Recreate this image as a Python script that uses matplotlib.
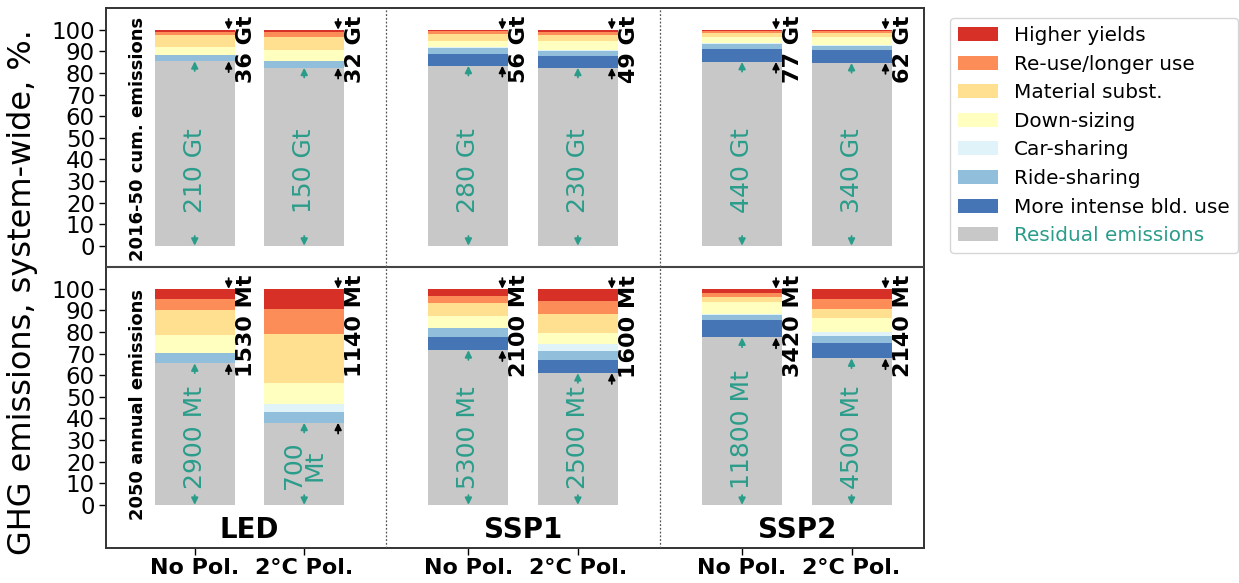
import matplotlib
matplotlib.use("Agg")
import matplotlib.pyplot as plt
from matplotlib.patches import Patch

plt.rcParams['font.family'] = ['DejaVu Sans']

# ---------------- data ----------------
scenarios = ["LED", "SSP1", "SSP2"]
policies = ["No Pol.", "2°C Pol."] * 3
categories = ["Residual emissions", "More intense bld. use", "Ride-sharing",
              "Car-sharing", "Down-sizing", "Material subst.",
              "Re-use/longer use", "Higher yields"]
colors = ["#c8c8c8", "#4575b4", "#91bfdb", "#e0f3f8", "#ffffbf",
          "#fee090", "#fc8d59", "#d73027"]

# 2016-50 cumulative emissions (% of system-wide), bars: LED NP, LED 2C, SSP1 NP, SSP1 2C, SSP2 NP, SSP2 2C
cum_residual = [85.4, 82.4, 83.3, 82.4, 85.1, 84.6]
cum_bld      = [0.0, 0.0, 5.7, 5.5, 6.2, 6.0]
cum_ride     = [2.7, 3.3, 2.6, 2.2, 2.3, 1.8]
cum_car      = [0.0, 0.0, 0.3, 0.5, 0.2, 0.4]
cum_down     = [4.1, 4.7, 3.1, 4.0, 2.8, 3.8]
cum_mat      = [5.2, 6.2, 3.1, 3.1, 1.8, 2.0]
cum_reuse    = [1.5, 2.2, 1.1, 1.4, 0.8, 0.9]
cum_yields   = [1.1, 1.2, 0.8, 0.9, 0.8, 0.5]

# 2050 annual emissions
ann_residual = [65.5, 38.0, 71.6, 61.0, 77.5, 67.8]
ann_bld      = [0.0, 0.0, 5.9, 6.1, 8.0, 7.0]
ann_ride     = [4.7, 5.2, 4.3, 4.2, 2.5, 3.4]
ann_car      = [0.0, 3.7, 0.3, 3.1, 0.3, 1.9]
ann_down     = [8.5, 9.7, 5.4, 5.4, 5.4, 6.6]
ann_mat      = [11.6, 22.4, 5.9, 8.5, 2.4, 4.2]
ann_reuse    = [4.9, 11.9, 3.1, 6.1, 1.9, 4.6]
ann_yields   = [4.8, 9.1, 3.5, 5.6, 2.0, 4.5]

cum_residual_labels = ["210 Gt", "150 Gt", "280 Gt", "230 Gt", "440 Gt", "340 Gt"]
cum_saving_labels = ["36 Gt", "32 Gt", "56 Gt", "49 Gt", "77 Gt", "62 Gt"]
ann_residual_labels = ["2900 Mt", "700\nMt", "5300 Mt", "2500 Mt", "11800 Mt", "4500 Mt"]
ann_saving_labels = ["1530 Mt", "1140 Mt", "2100 Mt", "1600 Mt", "3420 Mt", "2140 Mt"]

# ---------------- layout ----------------
positions = [0, 1, 2.5, 3.5, 5, 6]
group_centers = [0.5, 3.0, 5.5]
width = 0.73
top_offset = 120
teal = "#2a9d8a"

fig = plt.figure(figsize=(12.39, 5.83), dpi=100)
ax = fig.add_axes([0.0856, 0.060, 0.660, 0.926])

panels = [
    (top_offset, [cum_residual, cum_bld, cum_ride, cum_car, cum_down, cum_mat, cum_reuse, cum_yields],
     cum_residual_labels, cum_saving_labels, "2016-50 cum. emissions", 15),
    (0, [ann_residual, ann_bld, ann_ride, ann_car, ann_down, ann_mat, ann_reuse, ann_yields],
     ann_residual_labels, ann_saving_labels, "2050 annual emissions", 7.5),
]

for offset, series, res_labels, sav_labels, panel_label, res_text_y in panels:
    bottoms = [offset] * len(positions)
    for vals, col in zip(series, colors):
        ax.bar(positions, vals, width=width, bottom=bottoms, color=col,
               edgecolor='none', zorder=2)
        bottoms = [b + v for b, v in zip(bottoms, vals)]
    residual = series[0]
    for i, x in enumerate(positions):
        r = residual[i]
        # teal arrows (residual extent)
        ax.annotate('', xy=(x, offset + r), xytext=(x, offset + r - 4.5),
                    arrowprops=dict(arrowstyle='-|>', color=teal, lw=1.3,
                                    mutation_scale=10, shrinkA=0, shrinkB=0), zorder=4)
        ax.annotate('', xy=(x, offset), xytext=(x, offset + 4.5),
                    arrowprops=dict(arrowstyle='-|>', color=teal, lw=1.3,
                                    mutation_scale=10, shrinkA=0, shrinkB=0), zorder=4)
        ax.text(x, offset + res_text_y, res_labels[i], rotation=90, color=teal,
                fontsize=18, ha='center', va='bottom', linespacing=0.85, zorder=5)
        # black arrows (savings extent)
        xa = x + 0.31
        ax.annotate('', xy=(xa, offset + 100), xytext=(xa, offset + 105),
                    arrowprops=dict(arrowstyle='-|>', color='black', lw=1.3,
                                    mutation_scale=10, shrinkA=0, shrinkB=0), zorder=4)
        ax.annotate('', xy=(xa, offset + r), xytext=(xa, offset + r - 5),
                    arrowprops=dict(arrowstyle='-|>', color='black', lw=1.3,
                                    mutation_scale=10, shrinkA=0, shrinkB=0), zorder=4)
        ax.text(x + 0.375, offset + 106.5, sav_labels[i], rotation=90,
                fontsize=16, fontweight='bold', ha='left', va='top', zorder=5)
    ax.text(-0.52, offset - 7, panel_label, rotation=90, fontsize=13,
            fontweight='bold', ha='center', va='bottom')

# separators
ax.axhline(110, color='#444444', lw=1.5, zorder=3)
for xs in [1.75, 4.25]:
    ax.axvline(xs, color='#555555', lw=0.9, ls=(0, (1.5, 1.5)), zorder=3)

for gc, name in zip(group_centers, scenarios):
    ax.text(gc, -11.5, name, fontsize=20, fontweight='bold', ha='center', va='center')

ax.set_xlim(-0.81, 6.66)
ax.set_ylim(-20, 230)

yt = list(range(0, 101, 10))
ax.set_yticks(yt + [v + top_offset for v in yt])
ax.set_yticklabels([str(v) for v in yt] * 2, fontsize=16.5)
ax.tick_params(axis='y', length=5, width=1, pad=3)
ax.set_xticks(positions)
ax.set_xticklabels(policies, fontsize=16, fontweight='bold')
ax.tick_params(axis='x', length=5, width=1, pad=2)

for sp in ax.spines.values():
    sp.set_color('#333333')
    sp.set_linewidth(1.4)

ax.set_ylabel("GHG emissions, system-wide, %.", fontsize=23, labelpad=4)
ax.yaxis.set_label_coords(-0.083, 0.475)

handles = [Patch(facecolor=c, edgecolor='none', label=l)
           for c, l in zip(colors, categories)][::-1]
leg = fig.legend(handles=handles, loc='upper left',
                 bbox_to_anchor=(950 / 1239, 1 - 18 / 583), fontsize=14.4,
                 frameon=True, borderaxespad=0, labelspacing=0.48)
leg.get_frame().set_edgecolor('#cccccc')
leg.get_texts()[-1].set_color(teal)

fig.savefig("out.png", dpi=100)
